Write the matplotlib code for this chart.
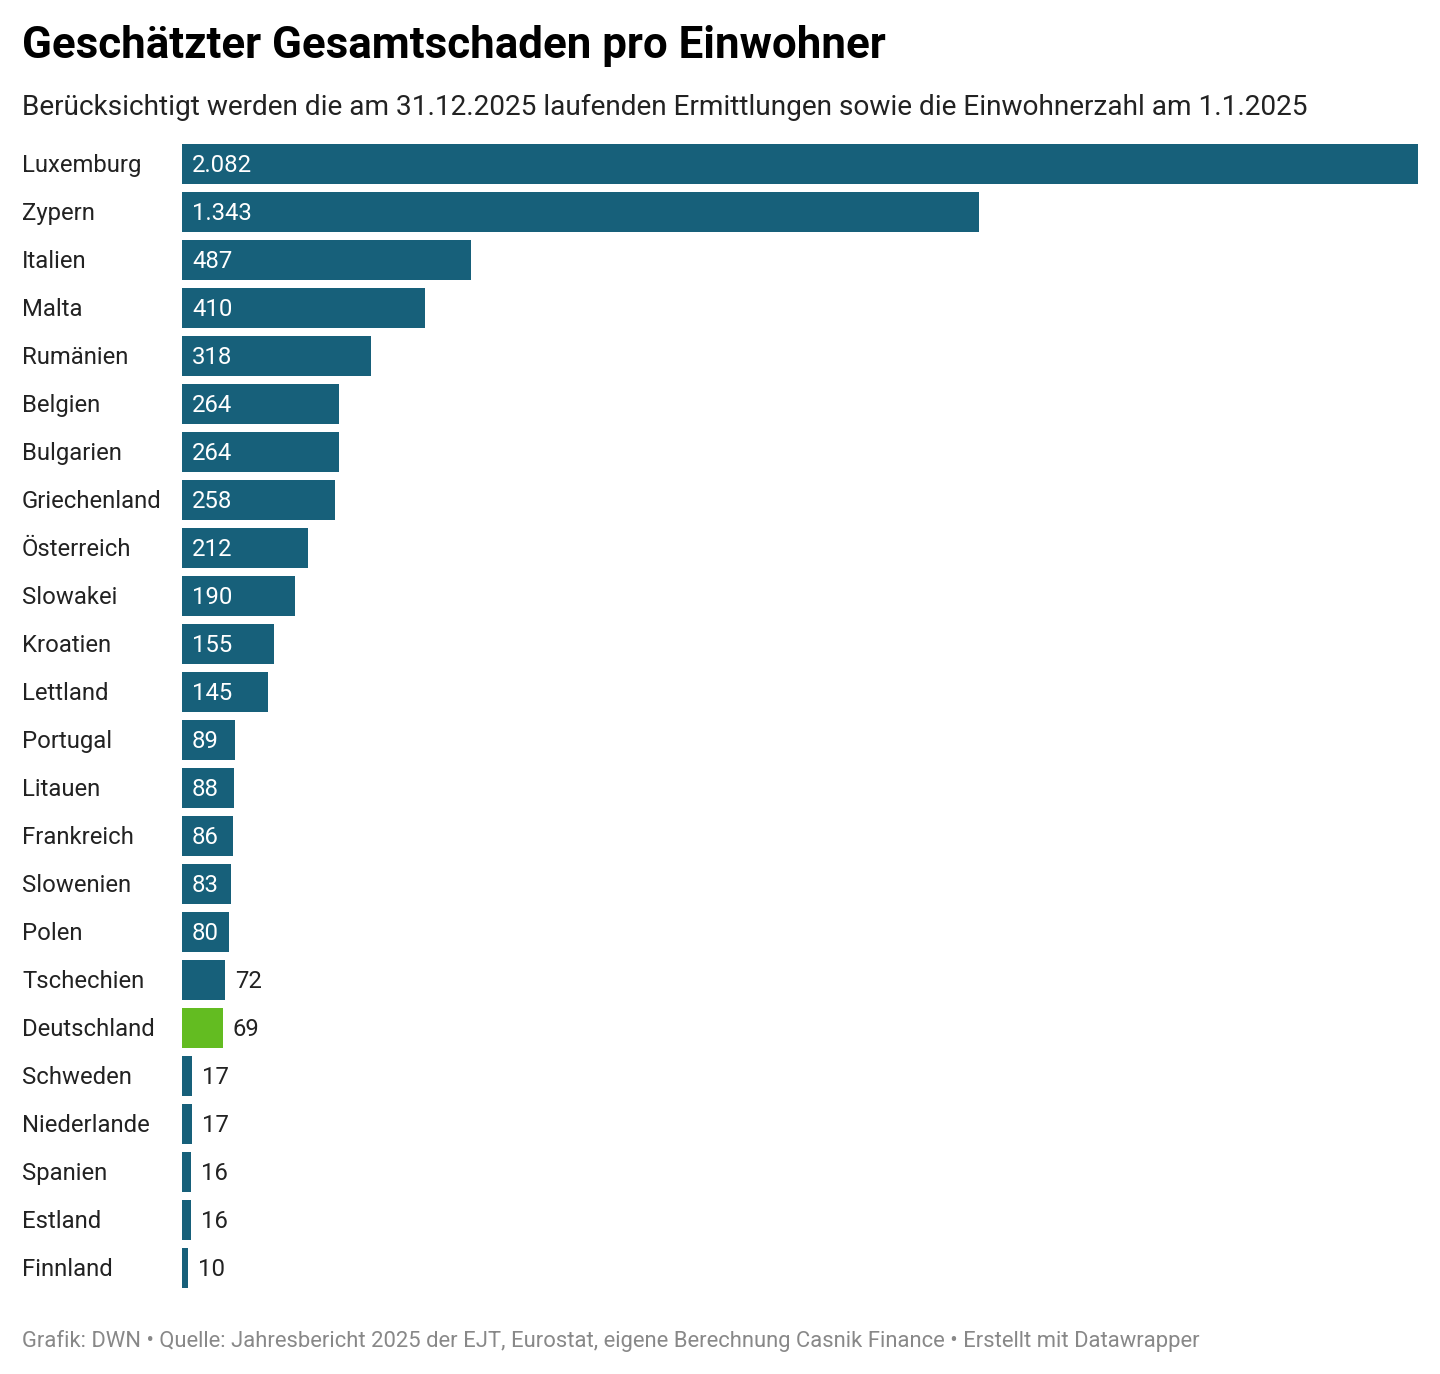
import matplotlib
matplotlib.use("Agg")
import matplotlib.pyplot as plt
from matplotlib.transforms import blended_transform_factory

countries = ["Luxemburg", "Zypern", "Italien", "Malta", "Rumänien", "Belgien", "Bulgarien",
             "Griechenland", "Österreich", "Slowakei", "Kroatien", "Lettland", "Portugal",
             "Litauen", "Frankreich", "Slowenien", "Polen", "Tschechien", "Deutschland",
             "Schweden", "Niederlande", "Spanien", "Estland", "Finnland"]
values = [2082, 1343, 487, 410, 318, 264, 264, 258, 212, 190, 155, 145, 89, 88, 86, 83, 80,
          72, 69, 17, 17, 16, 16, 10]
value_labels = ["2.082", "1.343", "487", "410", "318", "264", "264", "258", "212", "190", "155",
                "145", "89", "88", "86", "83", "80", "72", "69", "17", "17", "16", "16", "10"]
highlight = "Deutschland"

title = "Geschätzter Gesamtschaden pro Einwohner"
subtitle = "Berücksichtigt werden die am 31.12.2025 laufenden Ermittlungen sowie die Einwohnerzahl am 1.1.2025"
footer = "Grafik: DWN • Quelle: Jahresbericht 2025 der EJT, Eurostat, eigene Berechnung Casnik Finance • Erstellt mit Datawrapper"

plt.rcParams['font.family'] = ['Roboto', 'DejaVu Sans']

W, H = 1440, 1374
fig = plt.figure(figsize=(W / 100, H / 100), dpi=100)
fig.patch.set_facecolor("white")

left_px, right_px = 182, 1418
top_px, bottom_px = 140, 1292
ax = fig.add_axes([left_px / W, 1 - bottom_px / H, (right_px - left_px) / W, (bottom_px - top_px) / H])

blue = "#17607a"
green = "#63bc21"
n = len(countries)
ypos = list(range(n))
colors = [green if c == highlight else blue for c in countries]
ax.barh(ypos, values, height=40 / 48, color=colors, linewidth=0)
ax.set_xlim(0, max(values))
ax.set_ylim(n - 0.5, -0.5)
ax.axis("off")

fs = 17.2
px_per_val = (right_px - left_px) / max(values)
for i, (v, lab) in enumerate(zip(values, value_labels)):
    if v * px_per_val > 45:
        ax.annotate(lab, (0, i), xytext=(10 * 0.72, -1.4), textcoords="offset points",
                    ha="left", va="center", color="white", fontsize=fs)
    else:
        ax.annotate(lab, (v, i), xytext=(10 * 0.72, -1.4), textcoords="offset points",
                    ha="left", va="center", color="#222222", fontsize=fs)

trans = blended_transform_factory(fig.transFigure, ax.transData)
for i, c in enumerate(countries):
    fig.text(22 / W, i + 0.03, c, transform=trans, ha="left", va="center", fontsize=fs, color="#222222")

fig.text(22 / W, 1 - 46 / H, title, ha="left", va="center", fontsize=31.6, fontweight="bold", color="#000000")
fig.text(22 / W, 1 - 107 / H, subtitle, ha="left", va="center", fontsize=20.2, color="#222222")
fig.text(22 / W, 1 - 1341 / H, footer, ha="left", va="center", fontsize=15.85, color="#888888")

fig.savefig("out.png", dpi=100, facecolor="white")
